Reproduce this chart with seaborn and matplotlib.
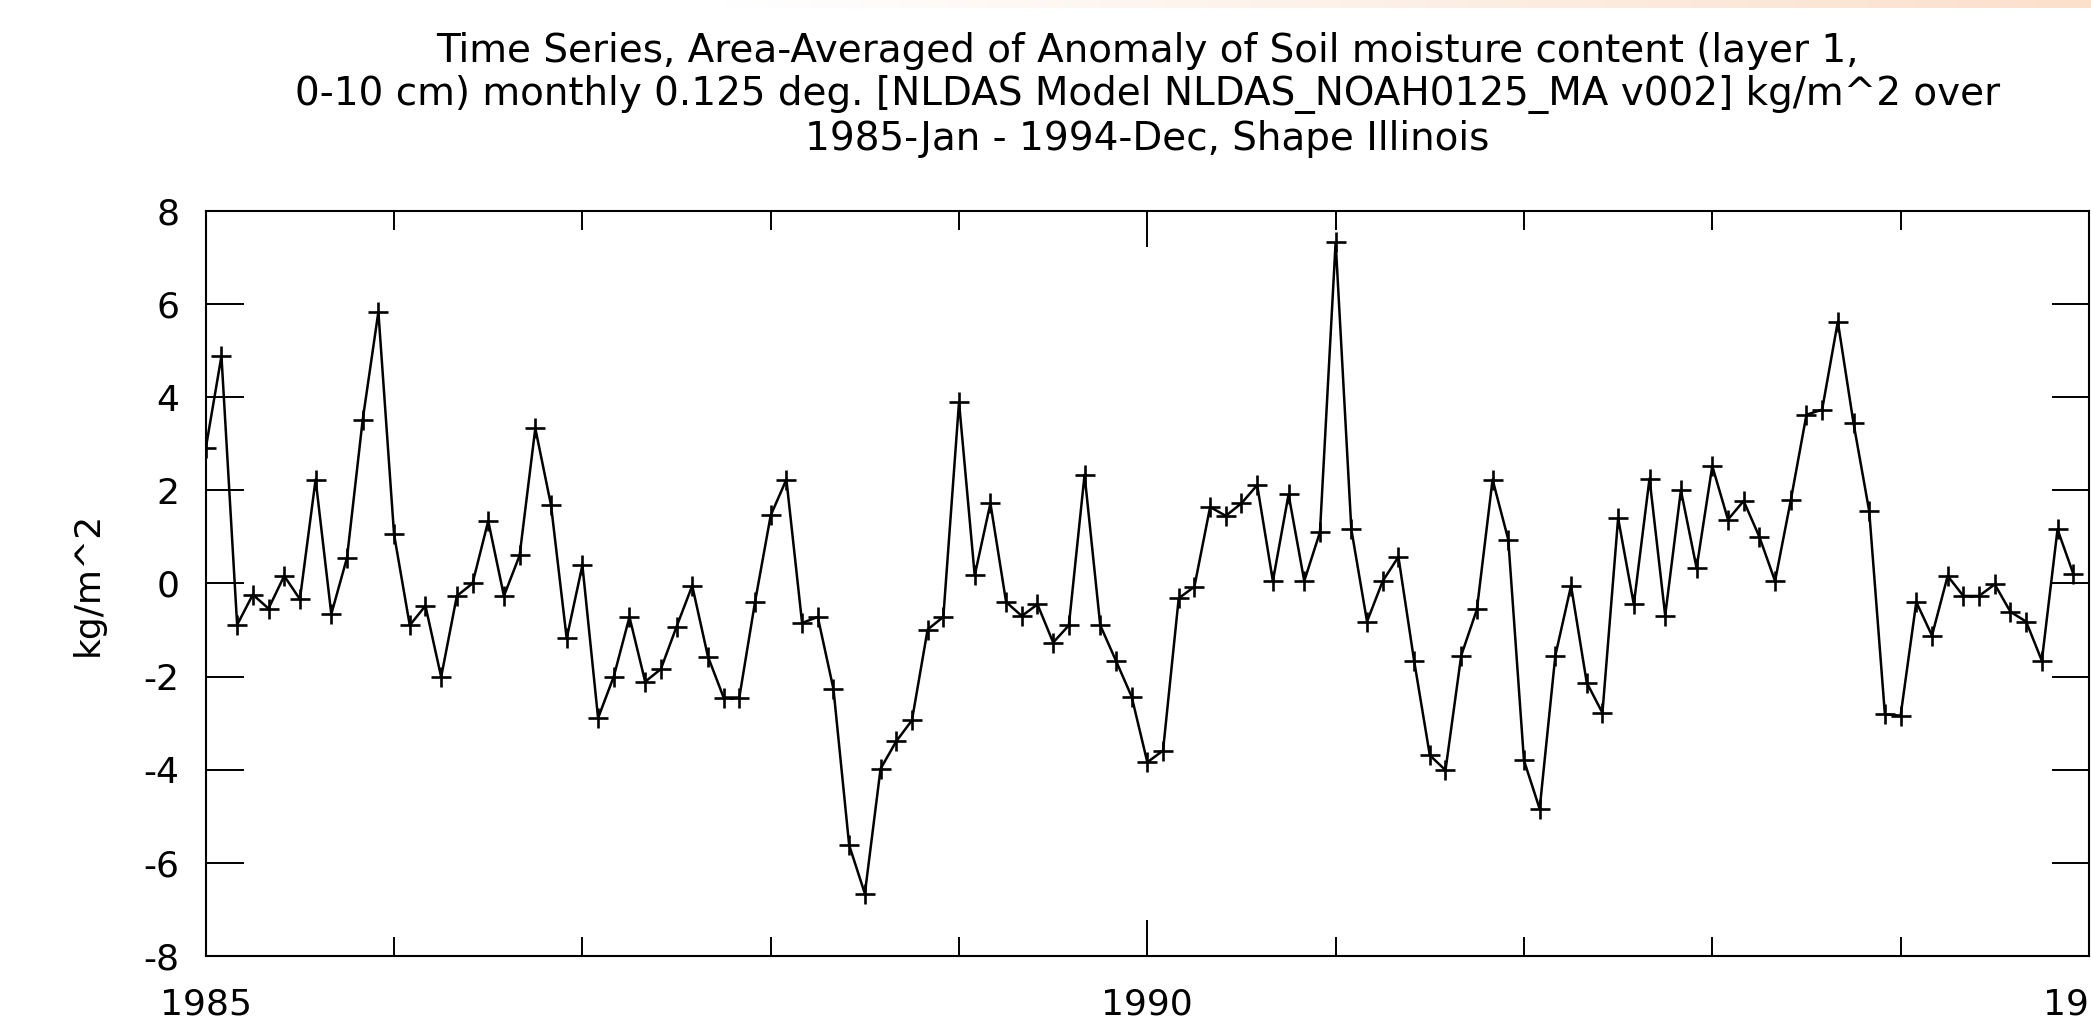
"""
Area-averaged soil moisture anomaly (NLDAS, layer 1), Illinois, 1985-1994.
Monthly values read off the Giovanni time-series plot.
"""

import numpy as np
import pandas as pd
import matplotlib
matplotlib.use("Agg")
import matplotlib.pyplot as plt
import seaborn as sns

# monthly anomaly, kg/m^2, 1985-Jan .. 1994-Dec
y1985 = [2.90, 4.88, -0.89, -0.24, -0.54, 0.16, -0.34, 2.23, -0.66, 0.55, 3.51, 5.83]
y1986 = [1.05, -0.90, -0.48, -2.01, -0.27, 0.00, 1.34, -0.27, 0.60, 3.33, 1.68, -1.18]
y1987 = [0.39, -2.89, -2.00, -0.72, -2.11, -1.84, -0.93, -0.05, -1.57, -2.45, -2.45, -0.40]
y1988 = [1.46, 2.23, -0.85, -0.72, -2.27, -5.62, -6.66, -3.98, -3.39, -2.94, -0.99, -0.72]
y1989 = [3.89, 0.17, 1.72, -0.40, -0.70, -0.45, -1.27, -0.90, 2.33, -0.90, -1.66, -2.43]
y1990 = [-3.84, -3.59, -0.32, -0.07, 1.64, 1.45, 1.72, 2.11, 0.05, 1.91, 0.05, 1.10]
y1991 = [7.33, 1.16, -0.82, 0.05, 0.57, -1.66, -3.69, -4.01, -1.55, -0.56, 2.23, 0.94]
y1992 = [-3.80, -4.84, -1.55, -0.05, -2.13, -2.78, 1.40, -0.45, 2.25, -0.69, 2.00, 0.33]
y1993 = [2.52, 1.37, 1.77, 1.00, 0.05, 1.78, 3.62, 3.73, 5.62, 3.44, 1.55, -2.81]
y1994 = [-2.84, -0.40, -1.12, 0.16, -0.27, -0.27, -0.02, -0.61, -0.82, -1.66, 1.16, 0.21]

years = list(range(1985, 1995))
anomaly = y1985 + y1986 + y1987 + y1988 + y1989 + y1990 + y1991 + y1992 + y1993 + y1994

title = ("Time Series, Area-Averaged of Anomaly of Soil moisture content (layer 1,\n"
         "0-10 cm) monthly 0.125 deg. [NLDAS Model NLDAS_NOAH0125_MA v002] kg/m^2 over\n"
         "1985-Jan - 1994-Dec, Shape Illinois")
y_label = "kg/m^2"
y_ticks = [-8, -6, -4, -2, 0, 2, 4, 6, 8]
x_major = [1985, 1990, 1995]

# decimal year for each month
dates = pd.date_range("1985-01-01", periods=len(anomaly), freq="MS")
df = pd.DataFrame({
    "t": dates.year + (dates.month - 1) / 12.0,
    "anom": anomaly,
})

sns.set_style("white")
plt.rcParams["font.family"] = ["DejaVu Sans"]
plt.rcParams["text.color"] = "black"
plt.rcParams["axes.labelcolor"] = "black"
plt.rcParams["xtick.color"] = "black"
plt.rcParams["ytick.color"] = "black"

fig = plt.figure(figsize=(20.91, 10.30), dpi=100)
ax = fig.add_axes([0.0984, 0.0718, 0.9006, 0.7236])

sns.lineplot(
    data=df, x="t", y="anom", ax=ax,
    color="black", linewidth=1.8,
    marker="+", markersize=15, markeredgewidth=1.9,
    markeredgecolor="black",
)

ax.set_xlim(1985, 1995)
ax.set_ylim(-8, 8)
ax.set_xticks(x_major)
ax.set_xticks(years[1:], minor=True)
ax.set_xticklabels([str(v) for v in x_major])
ax.set_yticks(y_ticks)
ax.set_yticklabels([str(v) for v in y_ticks])

ax.tick_params(axis="y", which="major", direction="in", length=27, width=1.4,
               left=True, right=True, labelsize=26, pad=19)
ax.tick_params(axis="x", which="major", direction="in", length=26, width=1.4,
               bottom=True, top=True, labelsize=26, pad=23)
ax.tick_params(axis="x", which="minor", direction="in", length=14, width=1.4,
               bottom=True, top=True)

for s in ax.spines.values():
    s.set_color("black")
    s.set_linewidth(1.5)

ax.set_xlabel("")
ax.set_ylabel(y_label, fontsize=26, labelpad=28)
ax.set_title(title, fontsize=28, pad=44, linespacing=1.18)

# faint browser strip along the top edge
strip = fig.add_axes([0.345, 0.992, 0.655, 0.008])
strip.imshow(np.linspace(0, 1, 256)[None, :], aspect="auto",
             cmap=matplotlib.colors.LinearSegmentedColormap.from_list(
                 "peach", ["#ffffff", "#fbe0cc"]))
strip.axis("off")

fig.savefig("out.png", dpi=100)
plt.close(fig)
